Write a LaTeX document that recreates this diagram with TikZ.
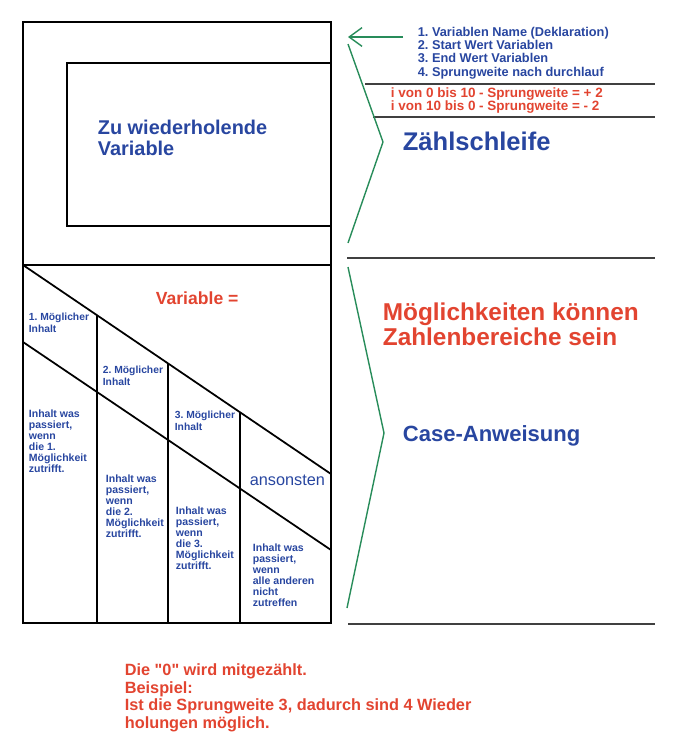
\documentclass[tikz,border=0pt]{standalone}
\usepackage{fontspec}
\setmainfont{Liberation Sans}
\usetikzlibrary{arrows.meta}
\definecolor{txtblue}{RGB}{40,70,160}
\definecolor{txtred}{RGB}{226,68,48}
\definecolor{brgreen}{RGB}{40,140,90}
\frenchspacing
\tikzset{
  txt/.style={anchor=north west, inner sep=0pt, align=left},
  bluetxt/.style={txt, text=txtblue, font=\bfseries #1},
  redtxt/.style={txt, text=txtred, font=\bfseries #1},
  cellfont/.style={bluetxt=\fontsize{9}{9.4}\selectfont},
  brace/.style={draw=brgreen, line width=1.2pt},
}
\begin{document}
\begin{tikzpicture}[x=0.03cm, y=-0.03cm, line width=1.5pt]
\useasboundingbox (0,0) rectangle (681,743);
% Zaehlschleife block
\draw (23,22) rectangle (331,623);
\draw (23,265) -- (331,265);
\draw (331,63) -- (67,63) -- (67,226) -- (331,226);
\node[bluetxt=\fontsize{17}{18.5}\selectfont] (loopvar) at (97,118.7) {Zu wiederholende\\Variable};
% Case block: diagonals
\draw (23,265) -- (331,474);
\draw (23,342) -- (331,550);
\foreach \xv in {97,168,240}
  \draw (\xv,{265+(\xv-23)*0.6786}) -- (\xv,623);
\node[redtxt=\fontsize{15}{17}\selectfont] (casevar) at (155,290.4) {Variable =};
\node[bluetxt=\fontsize{8.8}{10.2}\selectfont] (opt1) at (28,312.6) {1. Möglicher\\Inhalt};
\node[bluetxt=\fontsize{8.8}{10.2}\selectfont] (opt2) at (102,365.6) {2. Möglicher\\Inhalt};
\node[bluetxt=\fontsize{8.8}{10.2}\selectfont] (opt3) at (174,410.6) {3. Möglicher\\Inhalt};
\node[txt, text=txtblue, font=\fontsize{13.9}{15}\selectfont] (optelse) at (249,474.3) {ansonsten};
\node[cellfont] (do1) at (28,409.4) {Inhalt was\\passiert,\\wenn\\die 1.\\Möglichkeit\\zutrifft.};
\node[cellfont] (do2) at (105,474.4) {Inhalt was\\passiert,\\wenn\\die 2.\\Möglichkeit\\zutrifft.};
\node[cellfont] (do3) at (175,506.4) {Inhalt was\\passiert,\\wenn\\die 3.\\Möglichkeit\\zutrifft.};
\node[cellfont] (doelse) at (252,543.4) {Inhalt was\\passiert,\\wenn\\alle anderen\\nicht\\zutreffen};
% Right side notes
\node[bluetxt=\fontsize{10.9}{11.4}\selectfont] (params) at (417,25.9) {1. Variablen Name (Deklaration)\\2. Start Wert Variablen\\3. End Wert Variablen\\4. Sprungweite nach durchlauf};
\node[redtxt=\fontsize{11.5}{11.1}\selectfont] (examples) at (390,87.1) {i von 0 bis 10 - Sprungweite = + 2\\i von 10 bis 0 - Sprungweite = - 2};
\node[bluetxt=\fontsize{21.8}{24}\selectfont] (looptitle) at (402,131.6) {Zählschleife};
\node[redtxt=\fontsize{20.8}{21.3}\selectfont] (ranges) at (382,302.4) {Möglichkeiten können\\Zahlenbereiche sein};
\node[bluetxt=\fontsize{18.8}{20}\selectfont] (casetitle) at (402,424.2) {Case-Anweisung};
\node[redtxt=\fontsize{13.9}{14.9}\selectfont] (footnote) at (124,663.3) {Die \textquotedbl 0\textquotedbl{} wird mitgezählt.\\Beispiel:\\Ist die Sprungweite 3, dadurch sind 4 Wieder\\holungen möglich.};
% Separator lines
\draw[draw=black!75] (365,84) -- (655,84);
\draw[draw=black!75] (373,117) -- (655,117);
\draw[draw=black!75] (347,258) -- (655,258);
\draw[draw=black!75] (348,624) -- (655,624);
% Green braces and arrow
\coordinate (arrtail) at (403,37);
\coordinate (arrtip) at (348,37);
\draw[brace, -{Straight Barb[length=11pt, width=16pt]}] (arrtail) -- (arrtip);
\draw[brace] (348,44) -- (383,142) -- (348,243);
\draw[brace] (348,267) -- (384,433) -- (347,608);
\end{tikzpicture}
\end{document}
